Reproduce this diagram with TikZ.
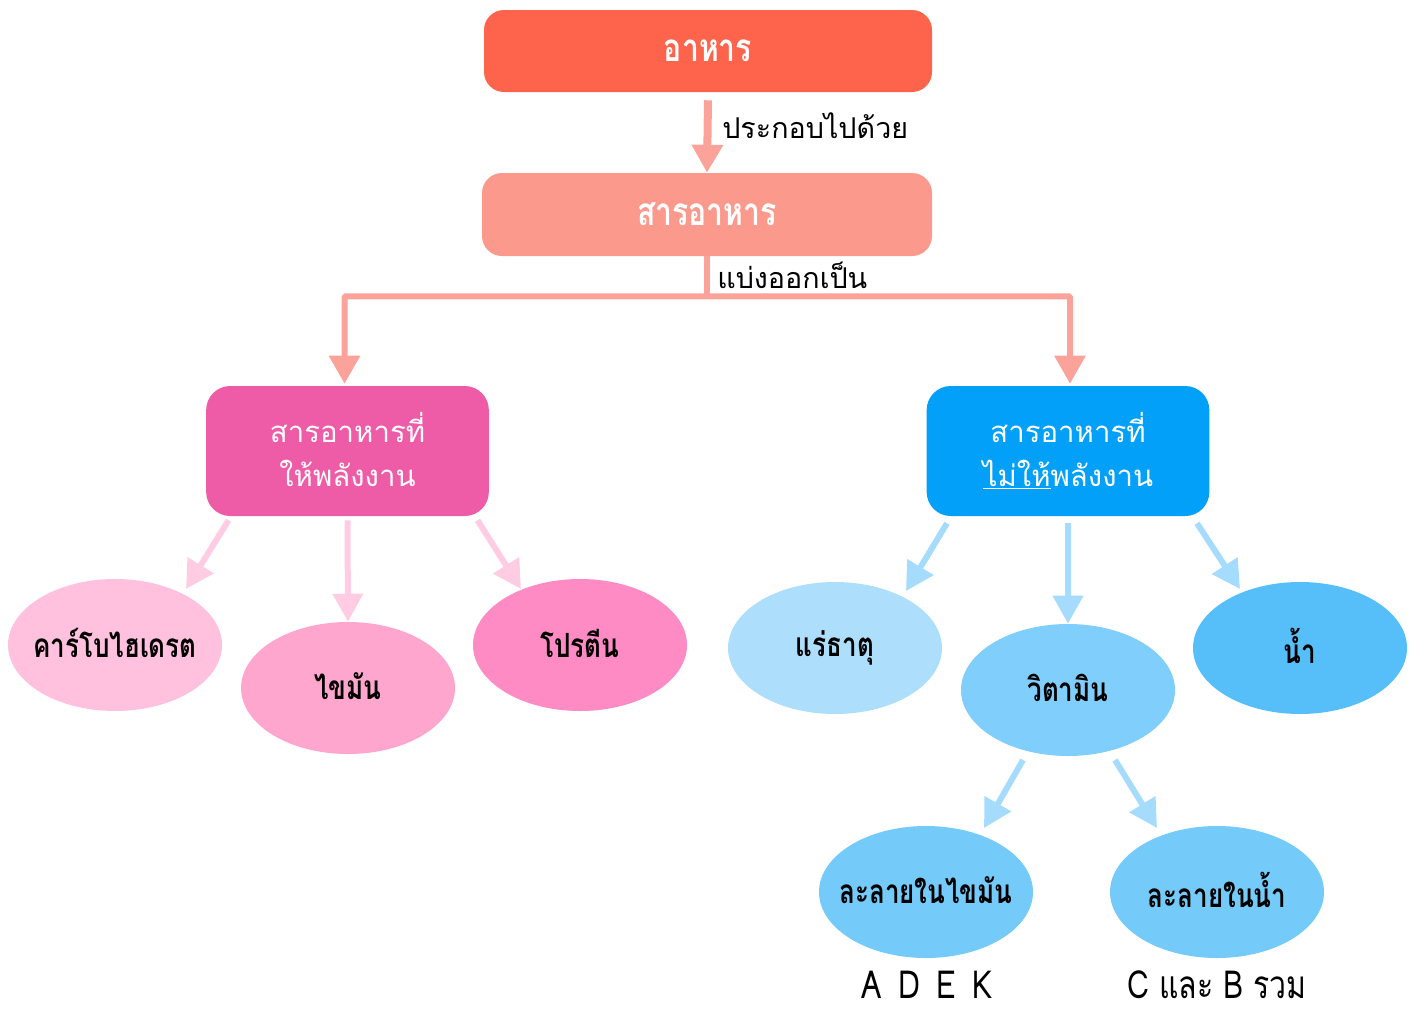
\documentclass[tikz,border=0pt]{standalone}
\usepackage{fontspec}
\usetikzlibrary{arrows.meta,calc,shapes.geometric}
\newfontfamily\thai[Script=Thai]{Loma}
\newfontfamily\thaicond[Script=Thai,FakeStretch=0.78]{Loma}
\newcommand\nowidth[1]{\makebox[0pt]{\raisebox{3pt}{#1}}}
\newcommand\widerspaces{\spaceskip=\dimexpr\fontdimen2\font+4.75pt\relax}
\definecolor{topC}{HTML}{FE634B}
\definecolor{nutC}{HTML}{FB998C}
\definecolor{linkC}{HTML}{FBA39A}
\definecolor{energyC}{HTML}{EE5BA6}
\definecolor{noenergyC}{HTML}{03A0F9}
\definecolor{pinkArr}{HTML}{FFCCE4}
\definecolor{blueArr}{HTML}{A5DCFD}
\definecolor{carbC}{HTML}{FFC1DE}
\definecolor{fatC}{HTML}{FFA6CF}
\definecolor{protC}{HTML}{FF8BC4}
\definecolor{minC}{HTML}{ADDFFC}
\definecolor{vitC}{HTML}{80CEFC}
\definecolor{waterC}{HTML}{56BFFA}
\definecolor{solC}{HTML}{74CAF9}
\tikzset{
  headbox/.style={rectangle, rounded corners=15pt, inner sep=0pt,
    text=white, font=\thaicond\bfseries\fontsize{29}{32}\selectfont},
  groupbox/.style={rectangle, rounded corners=18pt, inner sep=0pt,
    minimum width=212pt, minimum height=97.5pt, text=white, align=center,
    font=\thai\fontsize{22}{33}\selectfont},
  item/.style={ellipse, inner sep=0pt, minimum width=160.5pt, minimum height=99pt,
    font=\thaicond\bfseries\fontsize{25}{28}\selectfont},
  linklabel/.style={anchor=west, inner sep=0pt, font=\thai\fontsize{21.5}{24}\selectfont},
  vitlabel/.style={inner sep=0pt, font=\thaicond\fontsize{29}{32}\selectfont},
  mainarrow/.style={draw=linkC, line width=6pt,
    -{Triangle[width=22.5pt,length=21pt]}},
  pinkarrow/.style={draw=pinkArr, line width=4.5pt,
    -{Triangle[width=22pt,length=21pt]}},
  bluearrow/.style={draw=blueArr, line width=4.5pt,
    -{Triangle[width=22pt,length=21pt]}},
}
\begin{document}
\begin{tikzpicture}[x=0.75pt,y=-0.75pt]
\useasboundingbox (0,0) rectangle (1415,1008);

% top levels
\node[headbox, fill=topC, minimum width=336pt, minimum height=61.5pt] (food) at (708,51) {อาหาร};
\node[headbox, fill=nutC, minimum width=337.5pt, minimum height=62.25pt] (nut) at (707,214.5) {สารอาหาร};

% two groups of nutrients
\node[groupbox, fill=energyC] (energy) at (347.5,451) {\raisebox{3pt}{สารอาหารที่}\\\raisebox{3pt}{ให้พลังงาน}};
\node[groupbox, fill=noenergyC] (noenergy) at (1068,451) {\raisebox{3pt}{สารอาหารที่}\\\raisebox{3pt}{\underline{ไม่ให้}พลังงาน}};

% energy-giving nutrients
\node[item, fill=carbC] (carb) at (115,645) {\nowidth{คาร์โบไฮเดรต}};
\node[item, fill=fatC] (fat) at (348,688) {\nowidth{ไขมัน}};
\node[item, fill=protC] (prot) at (580,645) {\nowidth{โปรตีน}};

% non-energy nutrients
\node[item, fill=minC] (mineral) at (835,648) {\nowidth{แร่ธาตุ}};
\node[item, fill=vitC] (vit) at (1068,690) {\nowidth{วิตามิน}};
\node[item, fill=waterC] (water) at (1300,648) {\nowidth{น้ำ}};

% vitamin kinds
\node[item, fill=solC] (fatsol) at (926,892) {\nowidth{ละลายในไขมัน}};
\node[item, fill=solC] (watsol) at (1217,892) {\nowidth{ละลายในน้ำ}};
\node[vitlabel] (adek) at (927,985) {\widerspaces A D E K};
\node[vitlabel] (cb) at (1217,985) {C และ B รวม};

% food -> nutrients
\draw[mainarrow] ($(food.south)+(0,8)$) -- (nut.north);
\node[linklabel] (l1) at (722,126) {ประกอบไปด้วย};

% nutrients -> groups
\coordinate (split) at ($(nut.south)+(0,40)$);
\draw[draw=linkC, line width=4.5pt] (nut.south) -- (split);
\draw[mainarrow, line width=4.5pt, rounded corners=1pt]
  (split) -| ($(energy.north)+(-3,-2)$);
\draw[mainarrow, line width=4.5pt, rounded corners=1pt]
  (split) -| ($(noenergy.north)+(2,-2)$);
\node[linklabel] (l2) at (717,275) {แบ่งออกเป็น};

% energy group -> items
\draw[pinkarrow] ($(energy.south)+(-119,4)$) -- ($(carb)+(71,-56)$);
\draw[pinkarrow] ($(energy.south)+(0,4)$) -- (fat.north);
\draw[pinkarrow] ($(energy.south)+(130,4)$) -- ($(prot)+(-59,-56)$);

% non-energy group -> items
\draw[bluearrow] ($(noenergy.south)+(-121,7)$) -- ($(mineral)+(71,-57)$);
\draw[bluearrow] ($(noenergy.south)+(0,7)$) -- (vit.north);
\draw[bluearrow] ($(noenergy.south)+(129,7)$) -- ($(water)+(-60,-59)$);

% vitamin -> solubility groups
\draw[bluearrow] ($(vit)+(-45,70)$) -- ($(fatsol)+(58,-64)$);
\draw[bluearrow] ($(vit)+(47,70)$) -- ($(watsol)+(-60,-64)$);
\end{tikzpicture}
\end{document}
